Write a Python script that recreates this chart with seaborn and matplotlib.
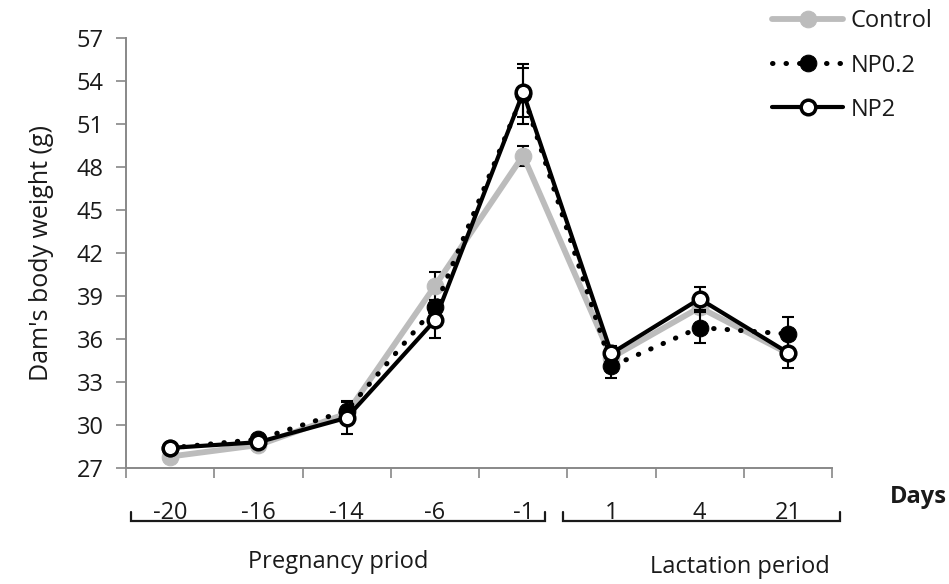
import numpy as np
import pandas as pd
import matplotlib
matplotlib.use("Agg")
import matplotlib.pyplot as plt
import seaborn as sns
import matplotlib.transforms as mtransforms

days = ["-20", "-16", "-14", "-6", "-1", "1", "4", "21"]
control = [27.8, 28.6, 30.8, 39.7, 48.8, 34.7, 38.2, 35.0]
np02 = [28.4, 29.0, 31.0, 38.2, 53.1, 34.1, 36.8, 36.35]
np2 = [28.4, 28.8, 30.5, 37.3, 53.2, 35.0, 38.8, 35.05]
control_err = [0.2, 0.2, 0.3, 1.0, 0.7, 0.3, 0.4, 0.3]
np02_err = [0.2, 0.2, 0.7, 0.5, 2.1, 0.8, 1.1, 1.2]
np2_err = [0.2, 0.2, 1.1, 1.2, 1.7, 0.5, 0.8, 1.05]
yticks = [27, 30, 33, 36, 39, 42, 45, 48, 51, 54, 57]
groups = ["Control", "NP0.2", "NP2"]

sns.set_theme(style="white")
plt.rcParams['font.family'] = ['Open Sans', 'DejaVu Sans']

FS = 17
TXT = "#1a1a1a"

fig = plt.figure(figsize=(9.49, 5.84), dpi=100)
ax = fig.add_axes([126/949, 1-468/584, (832-126)/949, (468-38)/584])

df = pd.DataFrame({"day": days * 3,
                   "group": np.repeat(groups, len(days)),
                   "weight": control + np02 + np2})

styles = {
    "Control": dict(color="#bcbcbc", lw=4.2, linestyle="-", marker="o", ms=12,
                    markerfacecolor="#bcbcbc", markeredgecolor="#bcbcbc", zorder=2),
    "NP0.2": dict(color="black", lw=3.6, linestyle=(0, (0.1, 2.6)), marker="o", ms=12,
                  markerfacecolor="black", markeredgecolor="black", zorder=3,
                  dash_capstyle="round"),
    "NP2": dict(color="black", lw=3.0, linestyle="-", marker="o", ms=10.5,
                markerfacecolor="white", markeredgecolor="black", markeredgewidth=2.5, zorder=4),
}
errs = {"Control": control_err, "NP0.2": np02_err, "NP2": np2_err}

pos = np.arange(len(days))
for g in groups:
    sub = df[df.group == g]
    ax.errorbar(pos, sub["weight"].values, yerr=errs[g], fmt="none", ecolor="black",
                elinewidth=1.5, capsize=4.5, capthick=1.5, zorder=styles[g]["zorder"] - 0.5)
    sns.lineplot(data=sub, x="day", y="weight", ax=ax, sort=False, label=g, **styles[g])

ax.set_xlim(-0.5, len(days) - 0.5)
ax.set_ylim(27, 57)
ax.set_yticks(yticks)
ax.set_yticklabels([str(t) for t in yticks], fontsize=FS, color=TXT)
ax.set_xticks(np.arange(-0.5, len(days), 1.0))
ax.set_xticklabels([])
ax.set_xticks(pos, minor=True)
ax.set_xticklabels(days, minor=True, fontsize=FS, color=TXT)
ax.tick_params(axis="x", which="minor", length=0, pad=24)
ax.tick_params(axis="x", which="major", length=7, width=1.2, color="#888888", direction="out", bottom=True)
ax.tick_params(axis="y", length=7, width=1.2, color="#888888", direction="out", left=True, pad=9)
for s in ["top", "right"]:
    ax.spines[s].set_visible(False)
for s in ["left", "bottom"]:
    ax.spines[s].set_color("#888888")
    ax.spines[s].set_linewidth(1.4)
ax.set_xlabel("")
ax.set_ylabel("Dam's body weight (g)", fontsize=18, color=TXT, labelpad=16)

# brackets below x labels
trans = mtransforms.blended_transform_factory(ax.transData, fig.transFigure)
yb = 1 - 521/584
yt = 1 - 512/584
for x0, x1 in [(-0.44, 4.25), (4.45, 7.59)]:
    ax.plot([x0, x0, x1, x1], [yt, yb, yb, yt], transform=trans, color="#1a1a1a",
            lw=1.6, clip_on=False, solid_joinstyle="miter")
fig.text(338/949, 1-562/584, "Pregnancy priod", ha="center", va="center", fontsize=FS, color=TXT)
fig.text(740/949, 1-567/584, "Lactation period", ha="center", va="center", fontsize=FS, color=TXT)
fig.text(947/949, 1-497/584, "Days", ha="right", va="center", fontsize=FS, fontweight="bold", color=TXT)

leg = ax.legend(loc="upper left", bbox_to_anchor=(763/949, 1.0), bbox_transform=fig.transFigure,
                frameon=False, fontsize=FS, handlelength=3.0, labelspacing=0.85, handletextpad=0.3,
                borderaxespad=0)
for t in leg.get_texts():
    t.set_color(TXT)

fig.savefig("out.png", dpi=100)
